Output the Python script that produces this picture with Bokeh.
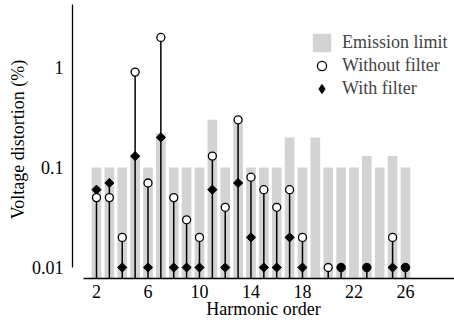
import math
from bokeh.plotting import figure
from bokeh.models import (Range1d, FixedTicker, CustomJSTickFormatter, Legend, LegendItem)
from bokeh.embed import file_html
from bokeh.resources import INLINE

# ---------------- data ----------------
harmonics = list(range(2, 27))
emission_limit = [0.1, 0.1, 0.1, 0.13, 0.1, 0.22, 0.1, 0.1, 0.1, 0.3, 0.1, 0.3, 0.1,
                  0.1, 0.1, 0.2, 0.1, 0.2, 0.1, 0.1, 0.1, 0.13, 0.1, 0.13, 0.1]
without_filter = [0.05, 0.05, 0.02, 0.9, 0.07, 2.0, 0.05, 0.03, 0.02, 0.13, 0.04, 0.3, 0.08,
                  0.06, 0.04, 0.06, 0.02, None, 0.01, 0.01, None, 0.01, None, 0.02, 0.01]
with_filter = [0.06, 0.07, 0.01, 0.13, 0.01, 0.2, 0.01, 0.01, 0.01, 0.06, 0.01, 0.07, 0.02,
               0.01, 0.01, 0.02, 0.01, None, None, 0.01, None, 0.01, None, 0.01, 0.01]
x_ticks = [2, 6, 10, 14, 18, 22, 26]
y_ticks = [0.01, 0.1, 1]

# ---------------- style ----------------
FONT = "Liberation Serif"
FS = "18px"
Y_LO, Y_HI = 0.00776, 4.68
X_LO, X_HI = 0.136, 29.81

p = figure(width=454, height=323, output_backend="svg", toolbar_location=None,
           y_axis_type="log", x_range=Range1d(X_LO, X_HI), y_range=Range1d(Y_LO, Y_HI),
           min_border_left=72, min_border_right=0, min_border_top=0, min_border_bottom=45)
p.outline_line_color = None
p.grid.visible = False
p.background_fill_color = "white"

bars = p.vbar(x=harmonics, top=emission_limit, bottom=Y_LO, width=0.75,
              fill_color="#d3d3d3", line_color=None)

# stems
sx, stop = [], []
for h, a, b in zip(harmonics, without_filter, with_filter):
    vals = [v for v in (a, b) if v is not None]
    if vals:
        sx.append(h)
        stop.append(max(vals))
p.segment(x0=sx, y0=Y_LO, x1=sx, y1=stop, line_color="black", line_width=1.5)

# markers
dx, dy, ox, oy, bx, by = [], [], [], [], [], []
for h, a, b in zip(harmonics, without_filter, with_filter):
    if a is not None and b is not None and a == b:
        bx.append(h); by.append(a)
        continue
    if b is not None:
        dx.append(h); dy.append(b)
    if a is not None:
        ox.append(h); oy.append(a)

p.scatter(x=dx, y=dy, marker="square", angle=math.pi / 4, size=6.5,
          fill_color="black", line_color="black", line_width=1)
opn = p.scatter(x=ox, y=oy, marker="circle", size=8, fill_color="white",
                line_color="black", line_width=1.3)
p.scatter(x=bx, y=by, marker="circle", size=8.5, fill_color="black",
          line_color="black", line_width=1)
# legend-only diamond renderer (nothing drawn on the plot)
dia_leg = p.scatter(x=[float("nan")], y=[float("nan")], marker="diamond", size=10,
                    fill_color="black", line_color="black", line_width=1)

legend = Legend(items=[LegendItem(label="Emission limit", renderers=[bars]),
                       LegendItem(label="Without filter", renderers=[opn]),
                       LegendItem(label="With filter", renderers=[dia_leg])],
                location=(238, 178))
legend.label_text_font = FONT
legend.label_text_font_size = FS
legend.glyph_width = 23
legend.glyph_height = 23
legend.label_height = 20
legend.spacing = 0
legend.padding = 0
legend.margin = 0
legend.label_standoff = 9
legend.border_line_color = None
legend.background_fill_alpha = 0
p.add_layout(legend)

for ax in (p.xaxis, p.yaxis):
    ax.major_tick_line_color = None
    ax.minor_tick_line_color = None
    ax.major_tick_out = 0
    ax.major_tick_in = 0
    ax.minor_tick_out = 0
    ax.axis_line_color = "black"
    ax.axis_line_width = 1.3
    ax.major_label_text_font = FONT
    ax.major_label_text_font_size = FS
    ax.major_label_text_color = "black"
    ax.axis_label_text_font = FONT
    ax.axis_label_text_font_size = FS
    ax.axis_label_text_font_style = "normal"
    ax.axis_label_text_color = "black"

p.xaxis.ticker = FixedTicker(ticks=x_ticks)
p.xaxis.bounds = (1, X_HI)
p.xaxis.axis_label = "Harmonic order"
p.xaxis.major_label_standoff = 6
p.xaxis.axis_label_standoff = -2

p.yaxis.ticker = FixedTicker(ticks=y_ticks)
p.yaxis.formatter = CustomJSTickFormatter(code="return tick.toString();")
p.yaxis.bounds = (0.01, 4.27)
p.yaxis.axis_label = "Voltage distortion (%)"
p.yaxis.major_label_standoff = 9
p.yaxis.axis_label_standoff = 1

open("out.html", "w").write(file_html(p, INLINE))
